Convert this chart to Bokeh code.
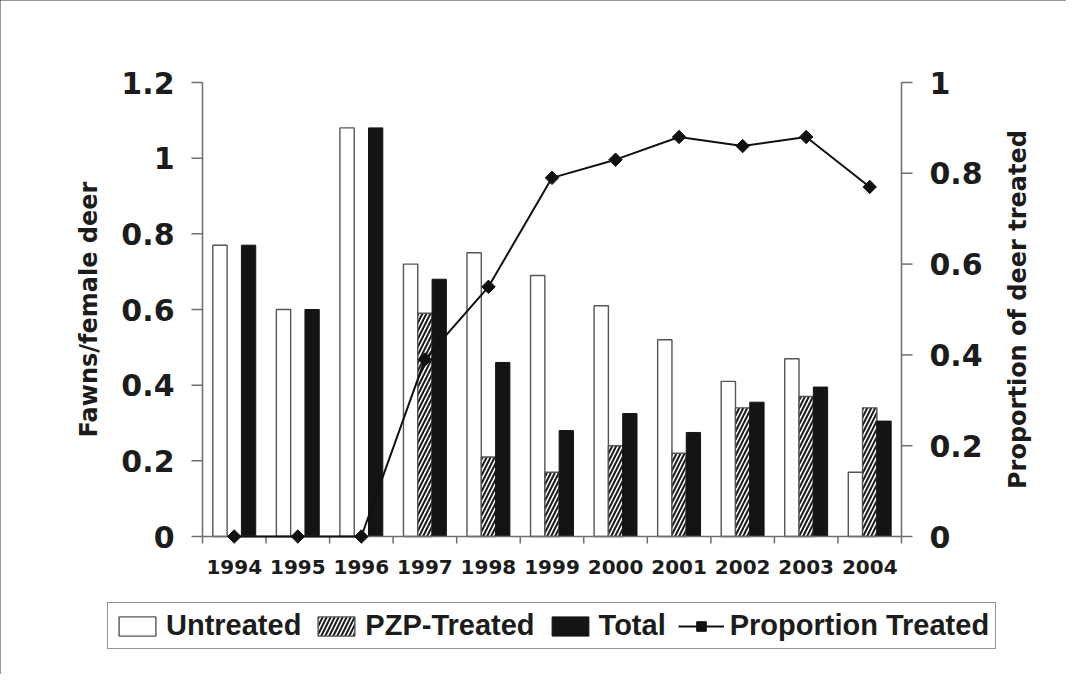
import math
from bokeh.plotting import figure
from bokeh.models import Range1d, Legend, LegendItem, ColumnDataSource
from bokeh.core.properties import value
from bokeh.embed import file_html
from bokeh.resources import INLINE

# ---------------- data ----------------
years = ["1994", "1995", "1996", "1997", "1998", "1999", "2000", "2001", "2002", "2003", "2004"]
untreated = [0.77, 0.60, 1.08, 0.72, 0.75, 0.69, 0.61, 0.52, 0.41, 0.47, 0.17]
pzp_treated = [0.0, 0.0, 0.0, 0.59, 0.21, 0.17, 0.24, 0.22, 0.34, 0.37, 0.34]
total = [0.77, 0.60, 1.08, 0.68, 0.46, 0.28, 0.325, 0.275, 0.355, 0.395, 0.305]
proportion_treated = [0.0, 0.0, 0.0, 0.39, 0.55, 0.79, 0.83, 0.88, 0.86, 0.88, 0.77]

left_ticks = [0, 0.2, 0.4, 0.6, 0.8, 1.0, 1.2]
right_ticks = [0, 0.2, 0.4, 0.6, 0.8, 1.0]

left_title = "Fawns/female deer"
right_title = "Proportion of deer treated"

# ---------------- layout (pixels) ----------------
W, H = 1066, 674
PLOT_L, PLOT_R, PLOT_T, PLOT_B = 202, 901, 82, 536
BAR_W = 0.225
FONT = "DejaVu Sans"
AXIS_COLOR = "#6e6e6e"
TEXT_COLOR = "#1c1c1c"
YTICK_PX, XTICK_PX = 11, 7

n = len(years)
centers = [i + 0.5 for i in range(n)]
bounds = [i for i in range(n + 1)]
fmt = lambda t: str(round(t, 1)).rstrip("0").rstrip(".") if t else "0"

# pixel -> data scale factors so the whole canvas is the drawing area
ppx = (PLOT_R - PLOT_L) / n
ppy_l = (PLOT_B - PLOT_T) / (left_ticks[-1] - left_ticks[0])
ppy_r = (PLOT_B - PLOT_T) / (right_ticks[-1] - right_ticks[0])
x_range = Range1d(-PLOT_L / ppx, n + (W - PLOT_R) / ppx)
y_range = Range1d(left_ticks[0] - (H - PLOT_B) / ppy_l, left_ticks[-1] + PLOT_T / ppy_l)
y_range_r = Range1d(right_ticks[0] - (H - PLOT_B) / ppy_r, right_ticks[-1] + PLOT_T / ppy_r)

src = ColumnDataSource(dict(
    x=centers,
    x_u=[c - BAR_W for c in centers],
    x_p=centers,
    x_t=[c + BAR_W for c in centers],
    untreated=untreated,
    pzp=pzp_treated,
    total=total,
    prop=proportion_treated,
))

p = figure(width=W, height=H, x_range=x_range, y_range=y_range,
           x_axis_location=None, y_axis_location=None,
           output_backend="svg", toolbar_location=None, min_border=0)
p.extra_y_ranges = {"prop": y_range_r}
p.outline_line_color = None
p.grid.visible = False
p.background_fill_color = "white"
p.border_fill_color = "white"
p.styles = {"outline": "2px solid #2a2a2a", "outline-offset": "-2px"}

# ---------------- bars ----------------
r_u = p.vbar(x="x_u", top="untreated", bottom=0, width=BAR_W, source=src,
             fill_color="white", line_color="#555555", line_width=1.4)
r_p = p.vbar(x="x_p", top="pzp", bottom=0, width=BAR_W, source=src,
             fill_color="white", line_color="#555555", line_width=1.4,
             hatch_pattern="right_diagonal_line", hatch_color="#1a1a1a",
             hatch_scale=8, hatch_weight=2)
r_t = p.vbar(x="x_t", top="total", bottom=0, width=BAR_W, source=src,
             fill_color="#141414", line_color="#141414", line_width=1)

# ---------------- axes ----------------
tx = YTICK_PX / ppx
# left axis
p.segment(x0=[0], y0=[left_ticks[0]], x1=[0], y1=[left_ticks[-1]],
          line_color=AXIS_COLOR, line_width=1.5)
p.segment(x0=[0] * len(left_ticks), y0=left_ticks,
          x1=[-tx] * len(left_ticks), y1=left_ticks,
          line_color=AXIS_COLOR, line_width=1.5)
p.text(x=[0] * len(left_ticks), y=left_ticks, text=[fmt(t) for t in left_ticks],
       x_offset=-(YTICK_PX + 17), text_align="right", text_baseline="middle",
       text_font=value(FONT), text_font_style="bold", text_font_size="30px",
       text_color=TEXT_COLOR)
p.text(x=[0], y=[(left_ticks[0] + left_ticks[-1]) / 2], text=[left_title],
       x_offset=-114, angle=math.pi / 2, text_align="center", text_baseline="middle",
       text_font=value(FONT), text_font_style="bold", text_font_size="24px",
       text_color=TEXT_COLOR)

# right axis
p.segment(x0=[n], y0=[right_ticks[0]], x1=[n], y1=[right_ticks[-1]],
          line_color=AXIS_COLOR, line_width=1.5, y_range_name="prop")
p.segment(x0=[n] * len(right_ticks), y0=right_ticks,
          x1=[n + tx] * len(right_ticks), y1=right_ticks,
          line_color=AXIS_COLOR, line_width=1.5, y_range_name="prop")
p.text(x=[n] * len(right_ticks), y=right_ticks, text=[fmt(t) for t in right_ticks],
       x_offset=YTICK_PX + 17, text_align="left", text_baseline="middle",
       text_font=value(FONT), text_font_style="bold", text_font_size="30px",
       text_color=TEXT_COLOR, y_range_name="prop")
p.text(x=[n], y=[(right_ticks[0] + right_ticks[-1]) / 2], text=[right_title],
       x_offset=116, angle=math.pi / 2, text_align="center", text_baseline="middle",
       text_font=value(FONT), text_font_style="bold", text_font_size="24px",
       text_color=TEXT_COLOR, y_range_name="prop")

# bottom axis
ty = XTICK_PX / ppy_l
p.segment(x0=[bounds[0]], y0=[0], x1=[bounds[-1]], y1=[0],
          line_color=AXIS_COLOR, line_width=1.5)
p.segment(x0=bounds, y0=[0] * len(bounds), x1=bounds, y1=[-ty] * len(bounds),
          line_color=AXIS_COLOR, line_width=1.5)
p.text(x=centers, y=[0] * n, text=years, y_offset=23,
       text_align="center", text_baseline="top",
       text_font=value(FONT), text_font_style="bold", text_font_size="20px",
       text_color=TEXT_COLOR)

# ---------------- proportion line ----------------
r_l = p.line(x="x", y="prop", source=src, y_range_name="prop",
             line_color="#111111", line_width=2)
r_m = p.scatter(x="x", y="prop", source=src, y_range_name="prop",
                marker="square", angle=math.pi / 4, size=9.5,
                fill_color="#111111", line_color="#111111")

# ---------------- legend ----------------
legend = Legend(items=[
    LegendItem(label="Untreated", renderers=[r_u]),
    LegendItem(label="PZP-Treated", renderers=[r_p]),
    LegendItem(label="Total", renderers=[r_t]),
    LegendItem(label="Proportion Treated", renderers=[r_l, r_m]),
], orientation="horizontal", location=(107, H - 649))
legend.label_text_font = "Liberation Sans"
legend.label_text_font_style = "bold"
legend.label_text_font_size = "29px"
legend.label_text_color = TEXT_COLOR
legend.glyph_width = 46
legend.glyph_height = 24
legend.label_standoff = 6
legend.spacing = 12
legend.padding = 6
legend.margin = 0
legend.border_line_color = "#2a2a2a"
legend.border_line_width = 1.5
legend.background_fill_color = "white"
legend.background_fill_alpha = 1.0
p.add_layout(legend)

open("out.html", "w").write(file_html(p, INLINE))
